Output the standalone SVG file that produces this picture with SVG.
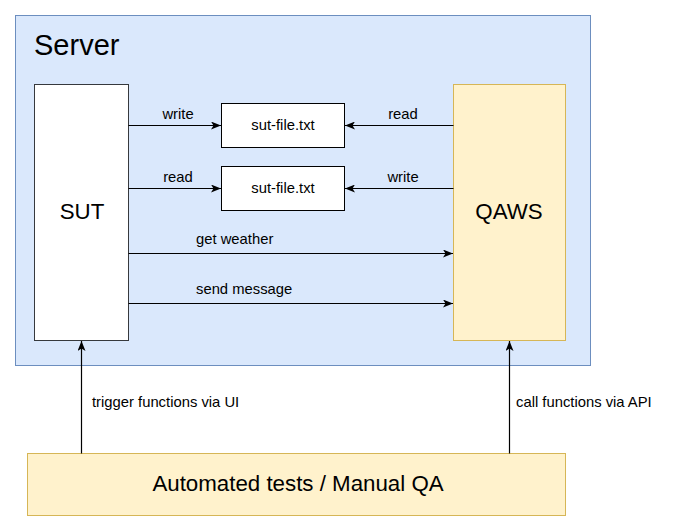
<svg xmlns="http://www.w3.org/2000/svg" width="675" height="532" viewBox="0 0 675 532">
<defs>
<style>
text{font-family:"Liberation Sans",Arial,sans-serif;fill:#000}
.lbl{font-size:14.8px}
.big{font-size:22.3px}
.edge{fill:none;stroke:#000;stroke-width:1.2}
</style>
<marker id="arr" viewBox="0 0 10 8" refX="10" refY="4" markerWidth="10" markerHeight="8" markerUnits="userSpaceOnUse" orient="auto">
<path d="M0,0 L10,4 L0,8 L2.5,4 Z" fill="#000"/>
</marker>
</defs>
<rect width="675" height="532" fill="#fff"/>
<g id="server">
<rect x="15.5" y="15.5" width="575" height="350" fill="#dae8fc" stroke="#6c8ebf"/>
<text x="34" y="55" style="font-size:29px">Server</text>
</g>
<g id="sut">
<rect x="34.5" y="84.5" width="94" height="256" fill="#fff" stroke="#36393d"/>
<text class="big" x="82" y="219" text-anchor="middle">SUT</text>
</g>
<g id="qaws">
<rect x="453.5" y="84.5" width="112" height="256" fill="#fff2cc" stroke="#d6b656"/>
<text class="big" x="509" y="219" text-anchor="middle">QAWS</text>
</g>
<g id="file1">
<rect x="221.5" y="103.5" width="123" height="44" fill="#fff" stroke="#000"/>
<text class="lbl" x="283" y="130" text-anchor="middle">sut-file.txt</text>
</g>
<g id="file2">
<rect x="221.5" y="166.5" width="123" height="44" fill="#fff" stroke="#000"/>
<text class="lbl" x="283" y="193" text-anchor="middle">sut-file.txt</text>
</g>
<g id="tests">
<rect x="27.5" y="453.5" width="538" height="62" fill="#fff2cc" stroke="#d6b656"/>
<text class="big" x="298" y="491" text-anchor="middle">Automated tests / Manual QA</text>
</g>
<g id="connectors">
<path class="edge" d="M128.5,125.5 H221" marker-end="url(#arr)"/>
<path class="edge" d="M128.5,188.5 H221" marker-end="url(#arr)"/>
<path class="edge" d="M453.5,125.5 H345" marker-end="url(#arr)"/>
<path class="edge" d="M453.5,188.5 H345" marker-end="url(#arr)"/>
<path class="edge" d="M128.5,253.5 H453" marker-end="url(#arr)"/>
<path class="edge" d="M128.5,303.5 H453" marker-end="url(#arr)"/>
<path class="edge" d="M81.5,453.5 V341" marker-end="url(#arr)"/>
<path class="edge" d="M509.5,453.5 V341" marker-end="url(#arr)"/>
<text class="lbl" x="178" y="119" text-anchor="middle">write</text>
<text class="lbl" x="178" y="182" text-anchor="middle">read</text>
<text class="lbl" x="403" y="119" text-anchor="middle">read</text>
<text class="lbl" x="403" y="182" text-anchor="middle">write</text>
<text class="lbl" x="196" y="244">get weather</text>
<text class="lbl" x="196" y="294">send message</text>
<text class="lbl" x="92" y="407">trigger functions via UI</text>
<text class="lbl" x="516" y="407">call functions via API</text>
</g>
</svg>
